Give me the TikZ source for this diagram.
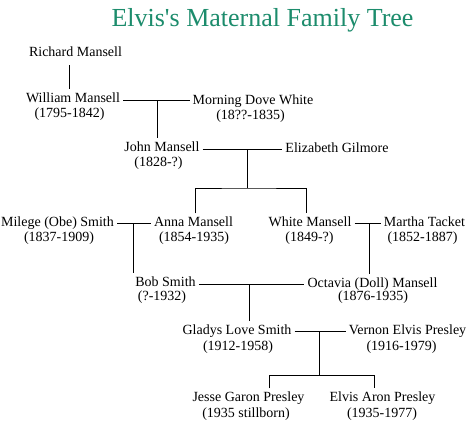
\documentclass[tikz,border=0pt]{standalone}
\usepackage{fontspec}
\setmainfont{Liberation Serif}
\definecolor{titlegreen}{RGB}{28,140,108}
\begin{document}
\begin{tikzpicture}[x=1pt,y=-1pt,
  pn/.style={font=\fontsize{14}{16}\selectfont, text height=10pt, text depth=3pt, inner xsep=3pt, inner ysep=3pt},
  ln/.style={draw=black, line width=1pt}]
\useasboundingbox[fill=white] (0,0) rectangle (473,424);
\node[font=\fontsize{26}{30}\selectfont, text=titlegreen] (title) at (262.5,20) {Elvis\textquotesingle s Maternal Family Tree};

\node[pn] (rm) at (75.5,53) {Richard Mansell};
\node[pn] (wm) at (73,99) {William Mansell};
\node[pn] (wmd) at (69.5,114) {(1795-1842)};
\node[pn] (mdw) at (253,101) {Morning Dove White};
\node[pn] (mdwd) at (250.5,116) {(18??-1835)};
\node[pn] (jm) at (162,148) {John Mansell};
\node[pn] (jmd) at (158.5,163) {(1828-?)};
\node[pn] (eg) at (337,149) {Elizabeth Gilmore};
\node[pn] (ms) at (57.5,223) {Milege (Obe) Smith};
\node[pn] (msd) at (59,238) {(1837-1909)};
\node[pn] (am) at (193.5,223) {Anna Mansell};
\node[pn] (amd) at (194,238) {(1854-1935)};
\node[pn] (wh) at (310,223) {White Mansell};
\node[pn] (whd) at (309.5,238) {(1849-?)};
\node[pn] (mt) at (424.5,223) {Martha Tacket};
\node[pn] (mtd) at (422.5,238) {(1852-1887)};
\node[pn] (bs) at (165.5,283) {Bob Smith};
\node[pn] (bsd) at (162,297) {(?-1932)};
\node[pn] (od) at (372.5,284) {Octavia (Doll) Mansell};
\node[pn] (odd) at (373,297) {(1876-1935)};
\node[pn] (gs) at (237,331) {Gladys Love Smith};
\node[pn] (gsd) at (238,347) {(1912-1958)};
\node[pn] (vp) at (407.5,331) {Vernon Elvis Presley};
\node[pn] (vpd) at (401.5,347) {(1916-1979)};
\node[pn] (jg) at (248.5,398) {Jesse Garon Presley};
\node[pn] (jgd) at (246,414) {(1935 stillborn)};
\node[pn] (ea) at (382.5,398) {Elvis Aron Presley};
\node[pn] (ead) at (382,414) {(1935-1977)};

% Richard -> William
\draw[ln] ([xshift=-6.5pt,yshift=-2.5pt]rm.south) -- ([xshift=-4pt]wm.north);
% William + Morning Dove -> John
\coordinate (m1) at (157,100);
\draw[ln] ([yshift=-1pt]wm.east) -- ([yshift=-1pt]wm.east -| mdw.west);
\draw[ln] (m1) -- (m1 |- jm.north);
% John + Elizabeth -> Anna, White
\coordinate (m2) at (247,149);
\coordinate (b2) at (247,188);
\draw[ln] ([yshift=-1pt]jm.east) -- ([yshift=-1pt]jm.east -| eg.west);
\draw[ln] (m2) -- (b2);
\draw[ln] ([xshift=1.5pt]am.north) |- (b2) -| ([xshift=-4pt]wh.north);
% Milege + Anna -> Bob
\coordinate (m3) at (133,223);
\draw[ln] (ms.east) -- (am.west);
\draw[ln] (m3) -- (m3 |- bs.north);
% White + Martha -> Octavia
\coordinate (m4) at (369,223);
\draw[ln] (wh.east) -- (mt.west);
\draw[ln] (m4) -- (m4 |- od.north);
% Bob + Octavia -> Gladys
\coordinate (m5) at (249,284);
\draw[ln] ([yshift=-1pt]bs.east) -- (od.west);
\draw[ln] (m5) -- (m5 |- gs.north);
% Gladys + Vernon -> Jesse, Elvis
\coordinate (m6) at (319,331);
\coordinate (b6) at (319,375);
\draw[ln] (gs.east) -- (vp.west);
\draw[ln] (m6) -- (b6);
\draw[ln] ([xshift=20.5pt]jg.north) |- (b6) -| ([xshift=-8.5pt]ea.north);
\end{tikzpicture}
\end{document}
